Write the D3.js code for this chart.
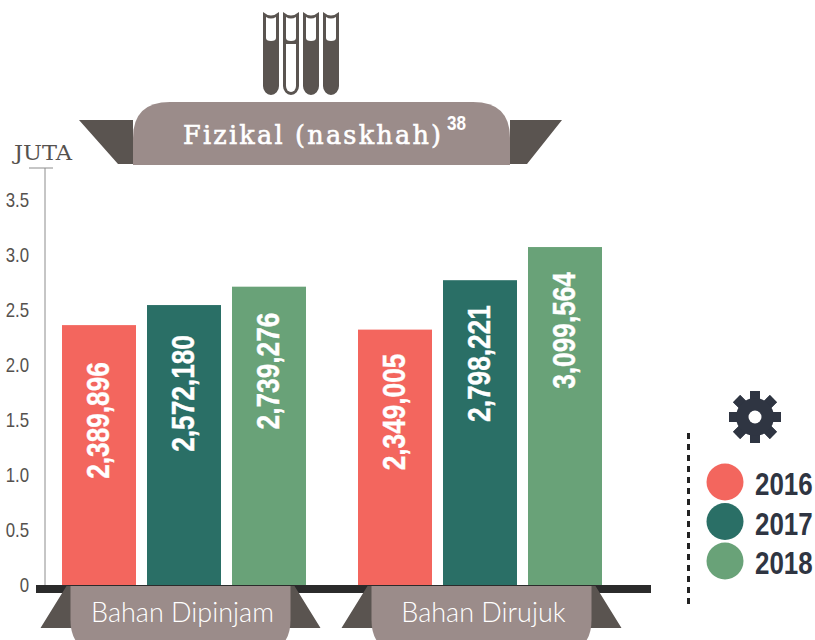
<!DOCTYPE html>
<html lang="en">
<head>
  <meta charset="UTF-8">
  <title>Fizikal (naskhah)</title>
  <style>
    html, body { margin: 0; padding: 0; background: #fff; }
    svg { display: block; }
  </style>
</head>
<body>
  <svg id="svg" width="815" height="640"></svg>
  <script src="https://d3js.org/d3.v7.min.js"></script>
  <script>
    const categories = ['Bahan Dipinjam', 'Bahan Dirujuk']
    const years = ['2016', '2017', '2018']
    const dipinjam = [2389896, 2572180, 2739276]
    const dirujuk = [2349005, 2798221, 3099564]
    const tickValues = [0, 0.5, 1, 1.5, 2, 2.5, 3, 3.5]
    const tickLabels = ['0', '0.5', '1.0', '1.5', '2.0', '2.5', '3.0', '3.5']
    const colors = ['#f3665e', '#2a6f66', '#69a278']

    const sans = '"Liberation Sans", sans-serif'
    const ribbon = '#9b8c8a'
    const wing = '#5a5450'
    const ink = '#2f3542'

    const svg = d3.select('#svg')

    // no condensed font installed, so squeeze the normal one
    function squeeze(sel, k) {
      sel.each(function () {
        d3.select(this)
          .attr('textLength', this.getComputedTextLength() * k)
          .attr('lengthAdjust', 'spacingAndGlyphs')
      })
    }

    const y = d3.scaleLinear().domain([0, 3.5]).range([588, 203])
    const x0 = d3.scaleBand().domain(categories).range([62, 602]).paddingInner(52 / 296)
    const x1 = d3.scaleBand().domain(years).range([0, x0.bandwidth()]).paddingInner(11 / 85)

    const rows = [dipinjam, dirujuk].flatMap((vals, i) =>
      vals.map((v, j) => ({ cat: categories[i], year: years[j], value: v, color: colors[j] })))
    // labels don't sit at a fixed distance from the bar top in the original
    const labelGap = [37, 30, 26, 24, 25, 25]

    // y axis
    const axis = svg.append('g')
      .attr('transform', 'translate(45,0)')
      .call(d3.axisLeft(y).tickValues(tickValues).tickSize(0).tickPadding(16)
        .tickFormat((d, i) => tickLabels[i]))
    axis.select('.domain').remove()
    axis.selectAll('text')
      .attr('font-family', sans)
      .attr('font-size', 21)
      .attr('fill', '#55514e')
      .attr('dy', 3.5)
      .call(squeeze, 0.8)
    axis.append('line').attr('y1', 168).attr('y2', 588).attr('stroke', '#8c8c8c').attr('stroke-width', 1)
    axis.append('line').attr('x1', -16).attr('x2', 8).attr('y1', 168).attr('y2', 168).attr('stroke', '#8c8c8c')

    svg.append('text').text('JUTA')
      .attr('x', 43).attr('y', 160)
      .attr('text-anchor', 'middle')
      .attr('font-family', '"DejaVu Serif", serif')
      .attr('font-size', 20)
      .attr('textLength', 58)
      .attr('lengthAdjust', 'spacingAndGlyphs')
      .attr('fill', '#55514e')

    // bars
    svg.append('g').selectAll('rect').data(rows).join('rect')
      .attr('x', d => x0(d.cat) + x1(d.year))
      .attr('y', d => y(d.value / 1e6))
      .attr('width', x1.bandwidth())
      .attr('height', d => y(0) - y(d.value / 1e6))
      .attr('fill', d => d.color)

    svg.append('g').selectAll('text').data(rows).join('text')
      .text(d => d3.format(',')(d.value))
      .attr('transform', (d, i) => {
        const cx = x0(d.cat) + x1(d.year) + x1.bandwidth() / 2
        return `translate(${cx + 10},${y(d.value / 1e6) + labelGap[i]}) rotate(-90)`
      })
      .attr('text-anchor', 'end')
      .attr('font-family', sans)
      .attr('font-weight', 700)
      .attr('font-size', 32)
      .attr('fill', '#fff')
      .attr('stroke', '#fff')
      .attr('stroke-width', 0.4)
      .call(squeeze, 0.82)

    // baseline
    svg.append('rect').attr('x', 36).attr('y', 585).attr('width', 615).attr('height', 8).attr('fill', '#2b2b2b')

    // bottom ribbons
    const ribbonX = d3.scalePoint().domain(categories).range([180.5, 481.5])
    const bottom = svg.append('g').selectAll('g').data(categories).join('g')
      .attr('transform', d => `translate(${ribbonX(d)},0)`)
    bottom.append('path')
      .attr('d', 'M-140,628L-114,586H-105V628Z M140,628L114,586H105V628Z')
      .attr('fill', wing)
    bottom.append('path')
      .attr('d', 'M-110,586H110V620Q110,652 78,652H-78Q-110,652 -110,620Z')
      .attr('fill', ribbon)
    bottom.append('text').text(d => d)
      .attr('x', 2).attr('y', 622)
      .attr('text-anchor', 'middle')
      .attr('font-family', 'Lato, sans-serif')
      .attr('font-weight', 300)
      .attr('font-size', 27)
      .attr('fill', '#fff')

    // top ribbon
    svg.append('path').attr('d', 'M79,120H133V164H118Z M510,120H562L527,164H510Z').attr('fill', wing)
    svg.append('path').attr('d', 'M133,165V138Q133,102 170,102H473Q510,102 510,138V165Z').attr('fill', ribbon)
    svg.append('text').text('Fizikal (naskhah)')
      .attr('x', 183).attr('y', 144)
      .attr('font-family', '"DejaVu Serif", serif')
      .attr('font-size', 25.5)
      .attr('textLength', 258)
      .attr('fill', '#fff')
      .attr('stroke', '#fff')
      .attr('stroke-width', 0.6)
    svg.append('text').text('38')
      .attr('x', 447).attr('y', 130)
      .attr('font-family', sans)
      .attr('font-weight', 700)
      .attr('font-size', 20)
      .attr('textLength', 19)
      .attr('lengthAdjust', 'spacingAndGlyphs')
      .attr('fill', '#fff')

    // books icon
    const books = svg.append('g').selectAll('g').data([0, 1, 2, 3]).join('g')
      .attr('transform', d => `translate(${263 + d * 20},12)`)
    books.append('path')
      .attr('d', 'M0,0Q8,7 16,0V74A8,9 0 0 1 0,74Z')
      .attr('fill', wing)
    books.append('path')
      .attr('d', 'M3,5Q8,8 13,5V26Q13,29 8,29Q3,29 3,26Z')
      .attr('fill', '#fff')
    books.filter(d => d === 1).append('path')
      .attr('d', 'M3,32H13V74A5,6 0 0 1 3,74Z')
      .attr('fill', '#fff')

    // gear
    const gear = svg.append('g').attr('transform', 'translate(755,417)')
    gear.selectAll('rect').data(d3.range(8)).join('rect')
      .attr('x', -5).attr('y', -26).attr('width', 10).attr('height', 52)
      .attr('transform', d => `rotate(${d * 45})`)
      .attr('fill', ink)
    gear.append('circle').attr('r', 19).attr('fill', ink)
    gear.append('circle').attr('r', 6.5).attr('fill', '#fff')

    // legend
    svg.append('line')
      .attr('x1', 688.5).attr('x2', 688.5).attr('y1', 433).attr('y2', 605)
      .attr('stroke', '#222').attr('stroke-width', 3)
      .attr('stroke-dasharray', '6 5')

    const legendY = d3.scalePoint().domain(years).range([482, 561])
    const legend = svg.append('g').selectAll('g').data(years).join('g')
      .attr('transform', d => `translate(0,${legendY(d)})`)
    legend.append('circle').attr('cx', 725).attr('r', 18.5).attr('fill', (d, i) => colors[i])
    legend.append('text').text(d => d)
      .attr('transform', 'translate(755,13) scale(0.81,1)')
      .attr('font-family', sans)
      .attr('font-weight', 700)
      .attr('font-size', 32)
      .attr('fill', ink)
  </script>
</body>
</html>
